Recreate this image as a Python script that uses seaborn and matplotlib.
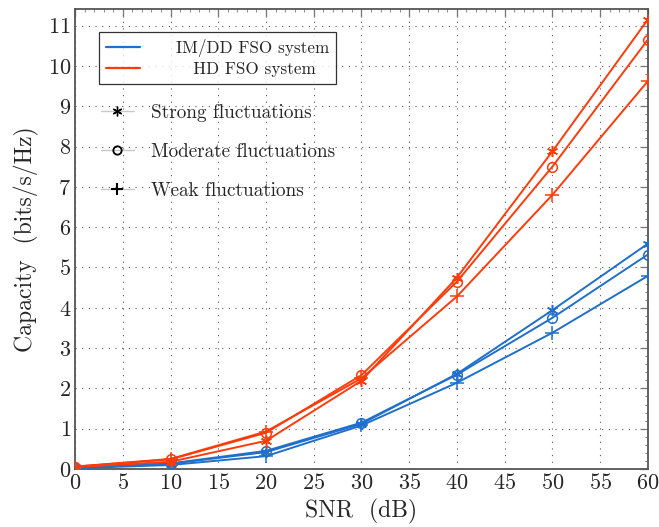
import matplotlib
matplotlib.use("Agg")
import matplotlib.pyplot as plt
from matplotlib.lines import Line2D
from matplotlib.ticker import MultipleLocator
import seaborn as sns
import pandas as pd

snr_db = [0, 10, 20, 30, 40, 50, 60]

imdd_strong = [0.03, 0.13, 0.42, 1.12, 2.36, 3.94, 5.59]
imdd_moderate = [0.03, 0.14, 0.45, 1.15, 2.34, 3.75, 5.32]
imdd_weak = [0.02, 0.10, 0.32, 1.08, 2.14, 3.38, 4.79]

hd_strong = [0.05, 0.18, 0.70, 2.19, 4.75, 7.88, 11.15]
hd_moderate = [0.06, 0.24, 0.90, 2.33, 4.65, 7.50, 10.65]
hd_weak = [0.06, 0.25, 0.93, 2.25, 4.28, 6.80, 9.62]

systems = ["IM/DD FSO system", "HD FSO system"]
fluctuations = ["Strong fluctuations", "Moderate fluctuations", "Weak fluctuations"]

series = {
    ("IM/DD FSO system", "Strong fluctuations"): imdd_strong,
    ("IM/DD FSO system", "Moderate fluctuations"): imdd_moderate,
    ("IM/DD FSO system", "Weak fluctuations"): imdd_weak,
    ("HD FSO system", "Strong fluctuations"): hd_strong,
    ("HD FSO system", "Moderate fluctuations"): hd_moderate,
    ("HD FSO system", "Weak fluctuations"): hd_weak,
}

rows = []
for (sysname, fl), vals in series.items():
    for x, y in zip(snr_db, vals):
        rows.append({"SNR": x, "Capacity": y, "system": sysname, "fluct": fl})
df = pd.DataFrame(rows)

sns.set_theme(style="white")
plt.rcParams["font.family"] = ["cmr10", "DejaVu Serif"]
plt.rcParams["mathtext.fontset"] = "cm"
plt.rcParams["axes.formatter.use_mathtext"] = True

blue = "#1f6fcc"
red = "#ff3b0a"
palette = {"IM/DD FSO system": blue, "HD FSO system": red}
star = (6, 2, 0)
markers = {"Strong fluctuations": star, "Moderate fluctuations": "o", "Weak fluctuations": "+"}
msizes = {"Strong fluctuations": 8, "Moderate fluctuations": 7, "Weak fluctuations": 10}

fig = plt.figure(figsize=(6.59, 5.27), dpi=100)
ax = fig.add_axes([0.114, 0.110, 0.869, 0.872])

for (sysname, fl), sub in df.groupby(["system", "fluct"], sort=False):
    sns.lineplot(data=sub, x="SNR", y="Capacity", color=palette[sysname],
                 marker=markers[fl], markersize=msizes[fl], linewidth=1.4,
                 markerfacecolor="none", markeredgecolor=palette[sysname],
                 markeredgewidth=1.1, ax=ax, legend=False, zorder=3)

ax.set_xlim(0, 60)
ax.set_ylim(0, 11.4)
ax.set_xticks(range(0, 61, 5))
ax.set_yticks(range(0, 12))
ax.xaxis.set_minor_locator(MultipleLocator(1))
ax.yaxis.set_minor_locator(MultipleLocator(0.2))
ax.set_xlabel("SNR  (dB)", fontsize=17, labelpad=4)
ax.set_ylabel("Capacity  (bits/s/Hz)", fontsize=17, labelpad=6)
ax.tick_params(axis="both", which="major", direction="in", length=6, width=0.9,
               color="#777777", labelsize=16, pad=3, top=True, right=True)
ax.tick_params(axis="both", which="minor", direction="in", length=2.5, width=0.6,
               color="#777777", top=True, right=True)
ax.grid(True, which="major", linestyle=(0, (1, 5)), color="#555555", linewidth=0.8)
for sp in ax.spines.values():
    sp.set_color("#555555")
    sp.set_linewidth(1.3)

h1 = [Line2D([], [], color=blue, lw=1.6), Line2D([], [], color=red, lw=1.6)]
lab1 = ["IM/DD FSO system", "   HD FSO system"]
leg1 = ax.legend(h1, lab1, loc="upper left", bbox_to_anchor=(99 / 659, 1 - 32 / 527),
                 bbox_transform=fig.transFigure, borderaxespad=0,
                 frameon=True, fancybox=False, edgecolor="black", fontsize=12.3,
                 handlelength=2.0, handletextpad=2.1, borderpad=0.4, labelspacing=0.3)
leg1.get_frame().set_linewidth(0.9)
ax.add_artist(leg1)

h2 = [Line2D([], [], color="#c8c8c8", lw=1.0, marker=star, markersize=7,
             markeredgecolor="black", markerfacecolor="none", markeredgewidth=1.0),
      Line2D([], [], color="#c8c8c8", lw=1.0, marker="o", markersize=6,
             markeredgecolor="black", markerfacecolor="none", markeredgewidth=1.3),
      Line2D([], [], color="#c8c8c8", lw=1.0, marker="+", markersize=8,
             markeredgecolor="black", markerfacecolor="none", markeredgewidth=1.5)]
leg2 = ax.legend(h2, fluctuations, loc="upper left", bbox_to_anchor=(93 / 659, 1 - 96 / 527),
                 bbox_transform=fig.transFigure, borderaxespad=0,
                 frameon=False, fontsize=13.8, handlelength=1.75, handletextpad=0.9,
                 labelspacing=1.1)

fig.savefig("out.png", dpi=100)
